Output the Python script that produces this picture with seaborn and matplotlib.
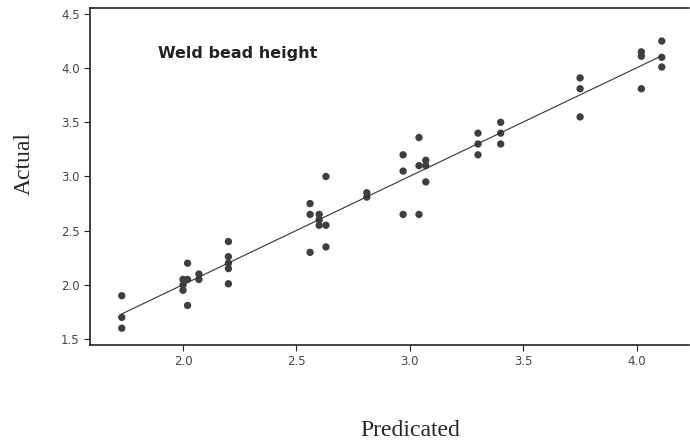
import numpy as np
import pandas as pd
import matplotlib
matplotlib.use("Agg")
import matplotlib.pyplot as plt
import seaborn as sns

# predicted vs actual weld bead height
predicted = [1.73, 1.73, 1.73,
             2.00, 2.00, 2.00, 2.02, 2.02, 2.02, 2.07, 2.07,
             2.20, 2.20, 2.20, 2.20, 2.20,
             2.56, 2.56, 2.56, 2.60, 2.60, 2.60, 2.63, 2.63, 2.63,
             2.81, 2.81,
             2.97, 2.97, 2.97, 3.04, 3.04, 3.04, 3.07, 3.07, 3.07,
             3.30, 3.30, 3.30, 3.40, 3.40, 3.40,
             3.75, 3.75, 3.75,
             4.02, 4.02, 4.02, 4.11, 4.11, 4.11]
actual = [1.90, 1.70, 1.60,
          2.05, 2.00, 1.95, 2.20, 2.05, 1.81, 2.10, 2.05,
          2.40, 2.26, 2.20, 2.15, 2.01,
          2.75, 2.65, 2.30, 2.65, 2.60, 2.55, 2.55, 2.35, 3.00,
          2.85, 2.81,
          3.20, 3.05, 2.65, 3.36, 3.10, 2.65, 3.15, 3.10, 2.95,
          3.40, 3.30, 3.20, 3.50, 3.40, 3.30,
          3.91, 3.81, 3.55,
          4.15, 4.11, 3.81, 4.25, 4.10, 4.01]

df = pd.DataFrame({"Predicated": predicted, "Actual": actual})

sns.set_style("ticks")
fig = plt.figure(figsize=(6.9, 4.44), dpi=100)
ax = fig.add_axes([90/690, 1-345/444, 599/690, 337/444])

sns.regplot(data=df, x="Predicated", y="Actual", ax=ax, ci=None, truncate=True,
            scatter_kws=dict(s=28, color="#3f3f3f", edgecolor="none", alpha=1),
            line_kws=dict(color="#333333", lw=0.8))

ax.set_xlim(1.59, 4.23)
ax.set_ylim(1.445, 4.555)
ax.set_xticks([2.0, 2.5, 3.0, 3.5, 4.0])
ax.set_yticks([1.5, 2.0, 2.5, 3.0, 3.5, 4.0, 4.5])
ax.set_xlabel("")
ax.set_ylabel("")
ax.tick_params(labelsize=8.5, labelcolor="#444444", length=4, width=0.8, color="#222222")
ax.spines["right"].set_visible(False)
for s in ax.spines.values():
    s.set_color("#222222")
    s.set_linewidth(1.2)

ax.text(0.113, 0.866, "Weld bead height", transform=ax.transAxes,
        fontsize=11.5, fontweight="bold", color="#222222", va="center")

fig.text(24/690, 1-163/444, "Actual", rotation=90, ha="center", va="center",
         fontsize=17, family="Liberation Serif")
fig.text(410/690, 1-430/444, "Predicated", ha="center", va="center",
         fontsize=17, family="Liberation Serif")

fig.savefig("out.png", dpi=100)
